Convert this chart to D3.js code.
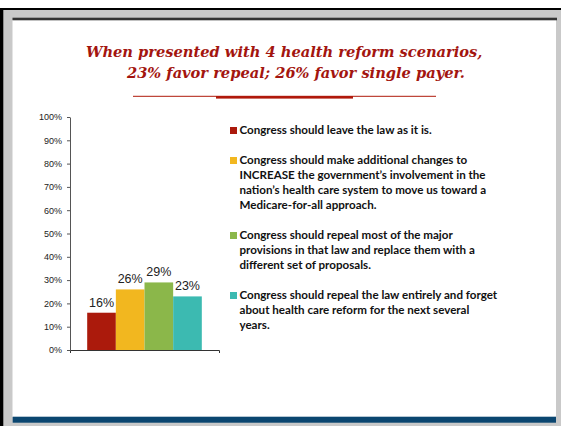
<!DOCTYPE html>
<html>
<head>
<meta charset="utf-8">
<script src="https://cdn.jsdelivr.net/npm/d3@7"></script>
<style>
  html, body { margin: 0; padding: 0; background: #fff; }
  svg { display: block; }
</style>
</head>
<body>
<svg id="chart" width="561" height="426"></svg>
<script>
// Survey responses: share favouring each health reform scenario
const categories = [
  "Congress should leave the law as it is.",
  "Congress should make additional changes to INCREASE the government’s involvement in the nation’s health care system to move us toward a Medicare-for-all approach.",
  "Congress should repeal most of the major provisions in that law and replace them with a different set of proposals.",
  "Congress should repeal the law entirely and forget about health care reform for the next several years."
];
const legendLines = [
  ["Congress should leave the law as it is."],
  ["Congress should make additional changes to",
   "INCREASE the government’s involvement in the",
   "nation’s health care system to move us toward a",
   "Medicare-for-all approach."],
  ["Congress should repeal most of the major",
   "provisions in that law and replace them with a",
   "different set of proposals."],
  ["Congress should repeal the law entirely and forget",
   "about health care reform for the next several",
   "years."]
];
const values = [0.16, 0.26, 0.29, 0.23];
const colors = ["#ab1a0c", "#f2b71f", "#8bb74a", "#3cbab1"];
const yTicks = [0, 0.1, 0.2, 0.3, 0.4, 0.5, 0.6, 0.7, 0.8, 0.9, 1.0];
const titleLines = [
  "When presented with 4 health reform scenarios,",
  "23% favor repeal; 26% favor single payer."
];

const svg = d3.select("#chart");

// Slide frame
svg.append("rect").attr("x", 0).attr("y", 8).attr("width", 561).attr("height", 418).attr("fill", "#000");
svg.append("rect").attr("x", 3.3).attr("y", 10).attr("width", 557.7).attr("height", 416).attr("fill", "#c9c9c9");
svg.append("rect").attr("x", 12.5).attr("y", 20).attr("width", 543.5).attr("height", 397).attr("fill", "#fff");
svg.append("rect").attr("x", 12.5).attr("y", 17.7).attr("width", 544.5).attr("height", 2.6).attr("fill", "#333");
svg.append("rect").attr("x", 12.7).attr("y", 416.7).attr("width", 543.3).attr("height", 6).attr("fill", "#0b4670");

// Title (first line spans x 86..483)
const title = svg.append("text")
  .attr("fill", "#a3150f")
  .attr("font-family", "'DejaVu Serif', serif")
  .attr("font-weight", "bold")
  .attr("font-style", "italic")
  .attr("font-size", 16);
const t1 = title.append("tspan").attr("x", 86).attr("y", 57).text(titleLines[0]);
const fitSize = 16 * 397 / t1.node().getComputedTextLength();
title.attr("font-size", fitSize);
title.append("tspan").attr("x", 127).attr("y", 77.5).text(titleLines[1]);

// Title rule
svg.append("line").attr("x1", 133).attr("x2", 436).attr("y1", 96.3).attr("y2", 96.3)
  .attr("stroke", "#b0190b").attr("stroke-width", 1);
svg.append("rect").attr("x", 216).attr("y", 96).attr("width", 137).attr("height", 2.6).attr("fill", "#b0190b");

// Chart scales
const x0 = 70, x1 = 219, yTop = 117, yBot = 350;
const x = d3.scaleBand().domain(d3.range(values.length)).range([x0, x1])
  .paddingInner(0).paddingOuter(0.6);
const y = d3.scaleLinear().domain([0, 1]).range([yBot, yTop]);

// Y axis
const yAxis = d3.axisLeft(y).tickValues(yTicks).tickFormat(d3.format(".0%"))
  .tickSizeInner(3).tickSizeOuter(0).tickPadding(5);
const gy = svg.append("g").attr("transform", `translate(${x0},0)`).call(yAxis);
gy.select(".domain").attr("stroke", "#555");
gy.selectAll(".tick line").attr("stroke", "#555");
gy.selectAll(".tick text").attr("fill", "#222")
  .attr("font-family", "Arial, 'Liberation Sans', sans-serif").attr("font-size", 9);

// X axis baseline
const xg = d3.scaleBand().domain([""]).range([x0, x1]);
const xAxis = d3.axisBottom(xg).tickSizeInner(0).tickSizeOuter(3).tickFormat("");
const gx = svg.append("g").attr("transform", `translate(0,${yBot})`).call(xAxis);
gx.select(".domain").attr("stroke", "#333");

// Bars
svg.append("g").selectAll("rect").data(values).join("rect")
  .attr("x", (d, i) => x(i))
  .attr("y", d => y(d))
  .attr("width", x.bandwidth())
  .attr("height", d => y(0) - y(d))
  .attr("fill", (d, i) => colors[i]);

// Value labels
svg.append("g").selectAll("text").data(values).join("text")
  .attr("x", (d, i) => x(i) + x.bandwidth() / 2)
  .attr("y", d => y(d) - 6)
  .attr("text-anchor", "middle")
  .attr("fill", "#222")
  .attr("font-family", "Arial, 'Liberation Sans', sans-serif")
  .attr("font-size", 12.5)
  .text(d => d3.format(".0%")(d));

// Legend
const lineH = 15;
let yCursor = 134;
const legend = svg.append("g");
legendLines.forEach((lines, i) => {
  legend.append("rect")
    .attr("x", 230).attr("y", yCursor - 7).attr("width", 7).attr("height", 7)
    .attr("fill", colors[i]);
  const t = legend.append("text")
    .attr("font-family", "Lato, 'Open Sans', sans-serif")
    .attr("font-weight", "bold")
    .attr("font-size", 11.6)
    .attr("fill", "#111");
  lines.forEach((ln, j) => {
    t.append("tspan").attr("x", 239.5).attr("y", yCursor + j * lineH).text(ln);
  });
  yCursor += (lines.length + 1) * lineH;
});
</script>
</body>
</html>
